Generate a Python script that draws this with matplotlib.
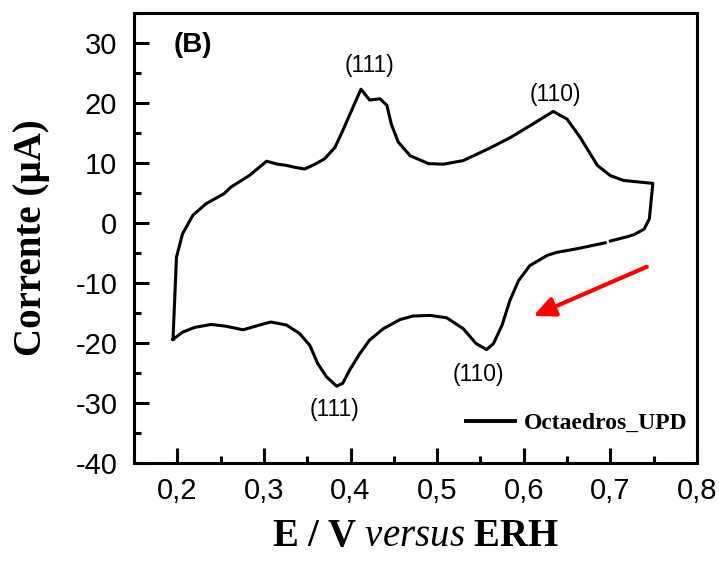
import numpy as np
import matplotlib.pyplot as plt
from matplotlib.ticker import MultipleLocator, FuncFormatter

plt.rcParams['mathtext.fontset'] = 'custom'
plt.rcParams['mathtext.rm'] = 'Liberation Serif'
plt.rcParams['mathtext.bf'] = 'Liberation Serif:bold'
plt.rcParams['mathtext.it'] = 'Liberation Serif:italic'

# anodic sweep (upper branch)
E_up = [0.195, 0.199, 0.206, 0.218, 0.233, 0.254, 0.262, 0.283, 0.303, 0.316,
        0.326, 0.335, 0.347, 0.359, 0.370, 0.382, 0.391, 0.401, 0.412, 0.422,
        0.434, 0.442, 0.447, 0.455, 0.469, 0.490, 0.507, 0.530, 0.561, 0.584,
        0.607, 0.634, 0.650, 0.665, 0.685, 0.700, 0.715, 0.749]
I_up = [-19.4, -5.7, -1.8, 1.3, 3.2, 4.9, 6.0, 7.9, 10.3, 9.8,
        9.6, 9.3, 9.0, 9.8, 10.7, 12.6, 15.4, 18.7, 22.3, 20.5,
        20.7, 19.6, 16.5, 13.5, 11.2, 9.9, 9.8, 10.4, 12.5, 14.2,
        16.2, 18.6, 17.3, 14.3, 9.6, 7.9, 7.1, 6.6]

# cathodic sweep (lower branch), with the small gap near 0.70 V
E_down = [0.749, 0.745, 0.739, 0.728, 0.719, 0.700, np.nan, 0.694, 0.661, 0.638,
          0.627, 0.607, 0.594, 0.584, 0.575, 0.565, 0.557, 0.545, 0.530, 0.511,
          0.492, 0.472, 0.457, 0.438, 0.422, 0.411, 0.399, 0.391, 0.384, 0.372,
          0.362, 0.353, 0.341, 0.326, 0.308, 0.295, 0.276, 0.256, 0.239, 0.220,
          0.206, 0.195]
I_down = [6.6, 0.7, -1.0, -1.9, -2.3, -3.0, np.nan, -3.3, -4.3, -4.9,
          -5.4, -7.1, -9.6, -12.9, -17.0, -20.1, -21.1, -20.1, -17.6, -15.8,
          -15.4, -15.5, -16.1, -17.6, -19.5, -21.7, -24.5, -26.7, -27.2, -25.6,
          -23.4, -20.4, -18.4, -17.0, -16.5, -17.0, -17.8, -17.2, -16.9, -17.4,
          -18.2, -19.4]

peak_labels = ['(111)', '(110)', '(110)', '(111)']
peak_E = [0.422, 0.636, 0.548, 0.382]
peak_I = [26.2, 21.4, -25.2, -31.1]

fig = plt.figure(figsize=(7.19, 5.63), dpi=100)
ax = fig.add_axes([0.1864, 0.1776, 0.7830, 0.7993])

ax.plot(E_up + E_down, I_up + I_down, color='black', lw=2.2, label='Octaedros_UPD')

for lab, xe, yi in zip(peak_labels, peak_E, peak_I):
    ax.text(xe, yi, lab, ha='center', va='center', fontsize=16.5,
            family='Liberation Sans')

ax.text(0.218, 29.7, '(B)', ha='center', va='center', fontsize=20,
        fontweight='bold', family='Liberation Sans')

ax.annotate('', xy=(0.611, -15.5), xytext=(0.742, -7.3),
            arrowprops=dict(arrowstyle='-|>,head_length=1.3,head_width=0.6',
                            color='red', lw=3, shrinkA=0, shrinkB=0))

ax.set_xlim(0.15, 0.8)
ax.set_ylim(-40, 35)
ax.xaxis.set_major_locator(MultipleLocator(0.1))
ax.xaxis.set_minor_locator(MultipleLocator(0.05))
ax.yaxis.set_major_locator(MultipleLocator(10))
ax.yaxis.set_minor_locator(MultipleLocator(5))
ax.xaxis.set_major_formatter(FuncFormatter(lambda v, p: ('%.1f' % v).replace('.', ',')))
ax.yaxis.set_major_formatter(FuncFormatter(lambda v, p: '%d' % round(v)))

ax.tick_params(which='both', direction='in', width=2.2, labelsize=21)
ax.tick_params(which='major', length=11)
ax.tick_params(which='minor', length=5)
ax.tick_params(axis='x', which='major', pad=10)
ax.tick_params(axis='y', which='major', pad=12)
for lab in ax.get_xticklabels() + ax.get_yticklabels():
    lab.set_family('Liberation Sans')
for sp in ax.spines.values():
    sp.set_linewidth(2.2)

ax.set_xlabel(r'$\mathbf{E\ /\ V}\ \mathit{versus}\ \mathbf{ERH}$', fontsize=28)
ax.set_ylabel('Corrente (µA)', fontsize=28, fontweight='bold',
              family='Liberation Serif')
ax.xaxis.set_label_coords(0.5, -0.118)
ax.yaxis.set_label_coords(-0.15, 0.5)

leg = ax.legend(loc='lower right', frameon=False,
                prop={'family': 'Liberation Serif', 'weight': 'bold', 'size': 17},
                handlelength=2.1, handletextpad=0.35, borderaxespad=0.3,
                bbox_to_anchor=(1.012, 0.028))
for h in leg.get_lines():
    h.set_linewidth(2.8)

fig.savefig('out.png', dpi=100)
